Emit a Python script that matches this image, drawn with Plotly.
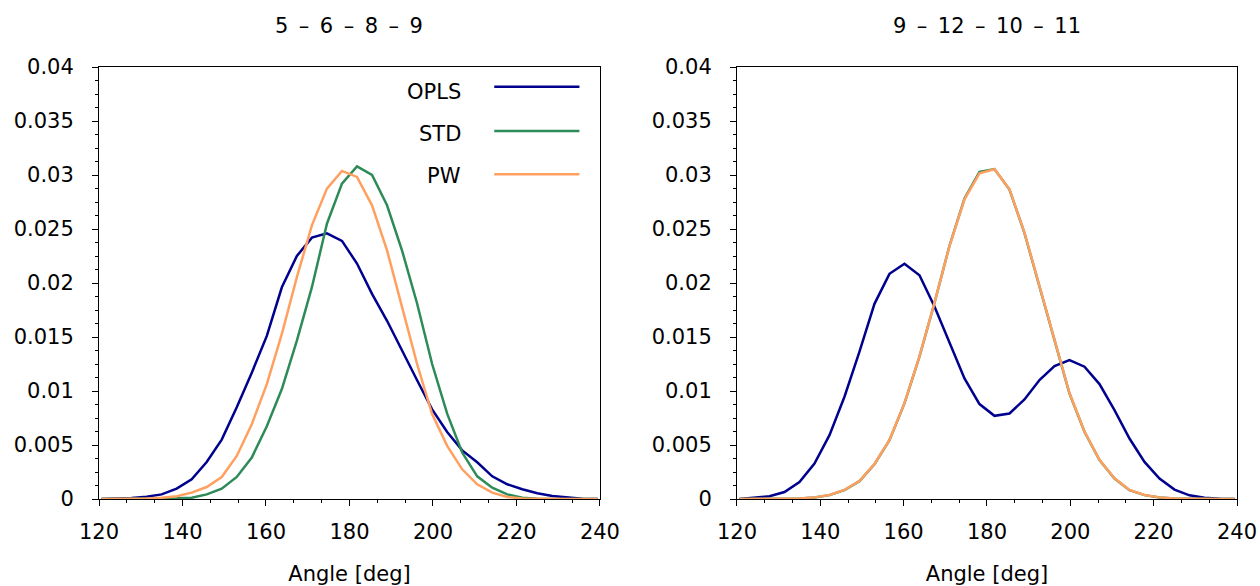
import plotly.graph_objects as go

# bin centres (deg) shared by all distributions
angles = [120.6, 124.2, 127.8, 131.4, 135.0, 138.6, 142.2, 145.8, 149.4, 153.0,
          156.6, 160.2, 163.8, 167.4, 171.0, 174.6, 178.2, 181.8, 185.4, 189.0,
          192.6, 196.2, 199.8, 203.4, 207.0, 210.6, 214.2, 217.8, 221.4, 225.0,
          228.6, 232.2, 235.8, 239.4]

# dihedral 5-6-8-9
opls_a = [0.0, 0.00002, 0.0001, 0.0002, 0.00043, 0.00096, 0.00182, 0.00343, 0.0055, 0.0085,
          0.0117, 0.0151, 0.0196, 0.0225, 0.0242, 0.0246, 0.0239, 0.0218, 0.0190, 0.0165,
          0.0137, 0.0110, 0.0083, 0.0062, 0.0045, 0.0034, 0.0021, 0.00136, 0.0009, 0.00053,
          0.00028, 0.00012, 0.00003, 0.0]
std_a = [0.0, 0.0, 0.0, 0.00001, 0.00003, 0.00006, 0.00012, 0.00043, 0.00096, 0.00204,
         0.00384, 0.00674, 0.01018, 0.01466, 0.01961, 0.02549, 0.0292, 0.0308, 0.0300, 0.0272,
         0.0230, 0.0181, 0.0125, 0.0079, 0.0043, 0.0021, 0.00105, 0.00043, 0.00012, 0.00003,
         0.00001, 0.0, 0.0, 0.0]
pw_a = [0.0, 0.0, 0.00003, 0.00005, 0.00012, 0.00025, 0.00059, 0.00111, 0.00204, 0.00399,
        0.00693, 0.01064, 0.01528, 0.02054, 0.02534, 0.02874, 0.03038, 0.02982, 0.02719, 0.02302,
        0.01776, 0.0125, 0.00786, 0.00492, 0.00275, 0.00136, 0.00059, 0.00019, 0.00005, 0.00001,
        0.0, 0.0, 0.0, 0.0]

# dihedral 9-12-10-11
opls_b = [0.0, 0.0001, 0.00025, 0.00065, 0.00158, 0.00328, 0.00591, 0.00947, 0.01364, 0.01807,
          0.02085, 0.02178, 0.02072, 0.01782, 0.01441, 0.01117, 0.00879, 0.0077, 0.00792, 0.00922,
          0.01101, 0.01231, 0.01287, 0.01225, 0.01064, 0.00823, 0.0056, 0.00343, 0.00189, 0.00087,
          0.00034, 0.00012, 0.00002, 0.0]
std_b = [0.0, 0.0, 0.0, 0.00002, 0.00005, 0.00014, 0.00036, 0.00083, 0.00165, 0.00322,
         0.00545, 0.00885, 0.01318, 0.01815, 0.02345, 0.02782, 0.03029, 0.03055, 0.02866, 0.02462,
         0.01965, 0.01455, 0.00977, 0.00622, 0.0036, 0.0019, 0.00082, 0.00036, 0.00014, 0.00004,
         0.00001, 0.0, 0.0, 0.0]
pw_b = [0.0, 0.0, 0.0, 0.00002, 0.00005, 0.00015, 0.00037, 0.00084, 0.00167, 0.00325,
        0.00548, 0.00888, 0.01321, 0.01816, 0.02342, 0.02775, 0.03016, 0.03053, 0.02868, 0.02466,
        0.0197, 0.0146, 0.00981, 0.00625, 0.00362, 0.00192, 0.00084, 0.00037, 0.00015, 0.00005,
        0.00001, 0.0, 0.0, 0.0]

panel_titles = ["5\u2002\u2013\u20026\u2002\u2013\u20028\u2002\u2013\u20029",
                "9\u2002\u2013\u200212\u2002\u2013\u200210\u2002\u2013\u200211"]
series_names = ["OPLS", "STD", "PW"]
x_ticks = [120, 140, 160, 180, 200, 220, 240]
y_ticks = [0, 0.005, 0.01, 0.015, 0.02, 0.025, 0.03, 0.035, 0.04]
y_tick_text = ["0", "0.005", "0.01", "0.015", "0.02", "0.025", "0.03", "0.035", "0.04"]

COLORS = {"OPLS": "#00008f", "STD": "#2e8b57", "PW": "#ffa060"}
FONT = "DejaVu Sans"
FS = 21

fig = go.Figure()
panels = [(opls_a, std_a, pw_a), (opls_b, std_b, pw_b)]
for i, data in enumerate(panels):
    xa = "x" if i == 0 else "x2"
    ya = "y" if i == 0 else "y2"
    for name, vals in zip(series_names, data):
        fig.add_trace(go.Scatter(
            x=angles, y=vals, mode="lines", name=name, showlegend=False,
            line=dict(color=COLORS[name], width=2.5), xaxis=xa, yaxis=ya,
        ))

axis_common = dict(
    showgrid=False, zeroline=False, showline=True, linecolor="black", linewidth=1,
    mirror=True, ticks="outside", tickcolor="black", ticklen=6, tickwidth=1,
    ticklabeloverflow="allow",
    tickfont=dict(family=FONT, size=FS, color="black"),
)
xaxis_style = dict(axis_common, range=[120, 240], tickvals=x_ticks, ticklabelstandoff=8,
                   minor=dict(dtick=20 / 3, tick0=120, ticks="outside", ticklen=3, tickcolor="black"),
                   title=dict(text="Angle [deg]", font=dict(family=FONT, size=FS, color="black"),
                              standoff=37))
yaxis_style = dict(axis_common, range=[0, 0.04], tickvals=y_ticks, ticktext=y_tick_text,
                   ticklabelstandoff=14,
                   minor=dict(dtick=0.00125, tick0=0, ticks="outside", ticklen=3, tickcolor="black"))

fig.update_layout(
    width=1260, height=586,
    margin=dict(l=99, r=23, t=67, b=87, autoexpand=False),
    paper_bgcolor="white", plot_bgcolor="white",
    font=dict(family=FONT, size=FS, color="black"),
    xaxis=dict(xaxis_style, domain=[0, 0.4402], anchor="y"),
    yaxis=dict(yaxis_style, domain=[0, 1], anchor="x"),
    xaxis2=dict(xaxis_style, domain=[0.5606, 1], anchor="y2"),
    yaxis2=dict(yaxis_style, domain=[0, 1], anchor="x2"),
)

# panel titles
for xref, title in zip(["x domain", "x2 domain"], panel_titles):
    fig.add_annotation(text=title, xref=xref, yref="paper", x=0.5, y=1.095,
                       xanchor="center", yanchor="middle", showarrow=False,
                       font=dict(family=FONT, size=FS, color="black"))

# legend drawn in the left panel: label on the left, line sample on the right
legend_text_y = [0.942, 0.845, 0.748]
legend_line_y = [0.954, 0.852, 0.752]
for name, ty, ly in zip(series_names, legend_text_y, legend_line_y):
    fig.add_annotation(text=name, xref="x domain", yref="y domain", x=0.727, y=ty,
                       xanchor="right", yanchor="middle", showarrow=False,
                       font=dict(family=FONT, size=FS, color="black"))
    fig.add_shape(type="line", xref="x domain", yref="y domain",
                  x0=0.789, x1=0.959, y0=ly, y1=ly,
                  line=dict(color=COLORS[name], width=2.5))

# drop the default 8px page margin so the figure fills the window exactly
fig.write_html("out.html", config={"displayModeBar": False},
               post_script="document.body.style.margin = '0';")
